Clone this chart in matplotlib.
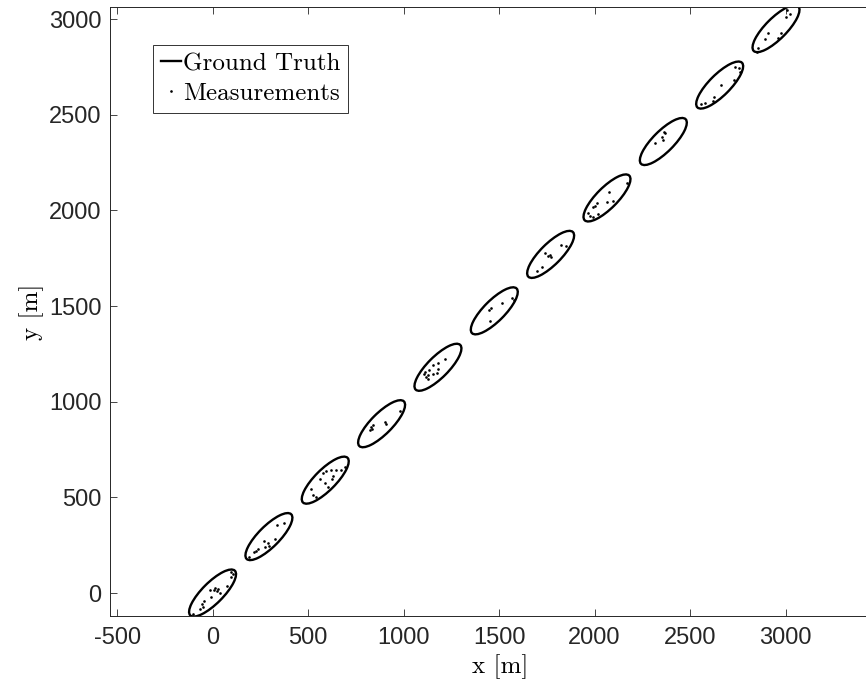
import matplotlib
matplotlib.use("Agg")
import matplotlib.pyplot as plt
from matplotlib.patches import Ellipse
from matplotlib.lines import Line2D

# Ground-truth extended object: ellipse centers along the trajectory
centers_x = [0, 295, 590, 885, 1180, 1475, 1770, 2065, 2360, 2655, 2950]
centers_y = [0, 295, 590, 885, 1180, 1475, 1770, 2065, 2360, 2655, 2950]
ellipse_major = 330
ellipse_minor = 110
ellipse_angle = 45

meas_x = [99, 105, 96, 73, 14, 26, 5, -16, 40, 23, -9, -44, -56, -51, -68, -105,
          374, 335, 329, 267, 288, 294, 274, 236, 227, 219, 191,
          691, 670, 646, 618, 592, 576, 630, 625, 562, 588, 604, 513, 524, 544,
          979, 904, 908, 841, 827, 834, 824,
          1215, 1180, 1155, 1131, 1113, 1105, 1126, 1117, 1152, 1176, 1181, 1129,
          1567, 1576, 1513, 1457, 1445, 1452,
          1825, 1848, 1740, 1757, 1768, 1773, 1723, 1696,
          2171, 2075, 2094, 2064, 2012, 2002, 1991, 2019, 1993, 1963, 1974,
          2361, 2370, 2352, 2358, 2318,
          2733, 2754, 2759, 2730, 2660, 2627, 2618, 2579, 2555,
          3007, 3021, 3000, 2909, 2977, 2890, 2962, 2857, 2853]
meas_y = [108, 99, 82, 37, 28, 23, 16, 16, 2, 10, -19, -42, -57, -71, -84, -110,
          368, 354, 281, 270, 263, 246, 239, 232, 221, 213, 186,
          657, 643, 643, 643, 636, 625, 611, 597, 594, 573, 556, 542, 510, 500,
          953, 894, 885, 880, 866, 855, 852,
          1222, 1204, 1192, 1168, 1155, 1143, 1142, 1129, 1147, 1152, 1169, 1121,
          1544, 1530, 1516, 1492, 1481, 1420,
          1821, 1814, 1776, 1763, 1769, 1755, 1706, 1682,
          2142, 2098, 2051, 2042, 2041, 2025, 2020, 1981, 1964, 1987, 1969,
          2411, 2406, 2384, 2366, 2354,
          2750, 2746, 2725, 2680, 2657, 2595, 2572, 2563, 2558,
          3048, 3027, 3009, 2929, 2926, 2894, 2901, 2851, 2830]

xticks = [-500, 0, 500, 1000, 1500, 2000, 2500, 3000]
yticks = [0, 500, 1000, 1500, 2000, 2500, 3000]
legend_labels = ['Ground Truth', 'Measurements']

fig = plt.figure(figsize=(8.66, 6.92), dpi=100)
ax = fig.add_axes([110 / 866, 76 / 692, 780 / 866, 609 / 692])

for cx, cy in zip(centers_x, centers_y):
    ax.add_patch(Ellipse((cx, cy), ellipse_major, ellipse_minor, angle=ellipse_angle,
                         fill=False, edgecolor='black', linewidth=1.7))

ax.plot(meas_x, meas_y, linestyle='none', marker='o', markersize=1.9,
        color='black', markeredgewidth=0)

ax.set_xlim(-537, -537 + 780 / 0.191)
ax.set_ylim(-120, 3063)
ax.set_xticks(xticks)
ax.set_yticks(yticks)
ax.set_xticklabels([str(v) for v in xticks], family='Liberation Sans', fontsize=17, color='#262626')
ax.set_yticklabels([str(v) for v in yticks], family='Liberation Sans', fontsize=17, color='#262626')
ax.tick_params(direction='in', top=True, right=True, length=5, width=0.6, color='#262626')
ax.tick_params(axis='x', pad=8)
ax.tick_params(axis='y', pad=6)
for s in ax.spines.values():
    s.set_color('#262626')
    s.set_linewidth(0.7)

ax.set_xlabel('x [m]', family='cmr10', fontsize=18, labelpad=4)
ax.set_ylabel('y [m]', family='cmr10', fontsize=18, labelpad=4)

handles = [Line2D([], [], color='black', linewidth=1.7),
           Line2D([], [], linestyle='none', marker='o', markersize=1.9, color='black', markeredgewidth=0)]
leg = ax.legend(handles, legend_labels, loc='upper left',
                bbox_to_anchor=(43 / 780, 0.9376), borderaxespad=0,
                prop={'family': 'cmr10', 'size': 18}, frameon=True, fancybox=False,
                handlelength=0.8, handletextpad=0.1, borderpad=0.3, labelspacing=0.3)
leg.get_frame().set_edgecolor('black')
leg.get_frame().set_linewidth(0.7)

fig.savefig('out.png', dpi=100)
